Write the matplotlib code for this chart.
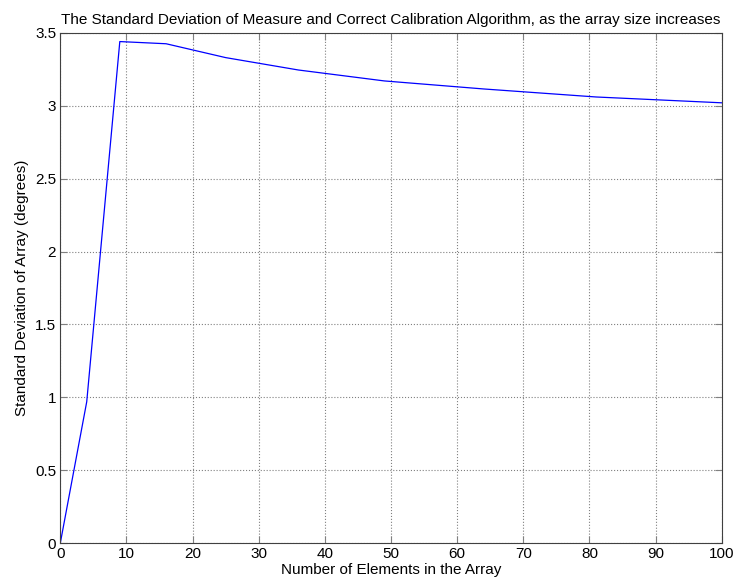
import matplotlib
matplotlib.use("Agg")
import matplotlib.pyplot as plt

# array sizes and measured standard deviation
n_elements = [0, 4, 9, 16, 25, 36, 49, 64, 81, 100]
std_dev = [0.0, 0.97, 3.44, 3.425, 3.33, 3.245, 3.17, 3.115, 3.06, 3.02]

x_ticks = list(range(0, 101, 10))
y_ticks = [0, 0.5, 1, 1.5, 2, 2.5, 3, 3.5]

plt.rcParams['font.family'] = ['Liberation Sans', 'DejaVu Sans']
plt.rcParams['font.size'] = 11

fig = plt.figure(figsize=(7.35, 5.86), dpi=100)
ax = fig.add_axes([0.082, 0.073, 0.900, 0.871])

ax.plot(n_elements, std_dev, color='#0000ff', linewidth=0.9)

ax.set_xlim(0, 100)
ax.set_ylim(0, 3.5)
ax.set_xticks(x_ticks)
ax.set_yticks(y_ticks)
ax.set_yticklabels(['0', '0.5', '1', '1.5', '2', '2.5', '3', '3.5'])

ax.grid(True, linestyle=':', color='#808080', linewidth=0.8)
ax.tick_params(direction='in', top=True, right=True, length=5,
               color='#808080', labelsize=11, pad=3)
for s in ax.spines.values():
    s.set_color('#404040')
    s.set_linewidth(0.8)

ax.set_title('The Standard Deviation of Measure and Correct Calibration Algorithm, as the array size increases',
             fontsize=11, pad=6)
ax.set_xlabel('Number of Elements in the Array', fontsize=11, labelpad=1)
ax.set_ylabel('Standard Deviation of Array (degrees)', fontsize=11, labelpad=4)

fig.savefig('out.png', dpi=100)
